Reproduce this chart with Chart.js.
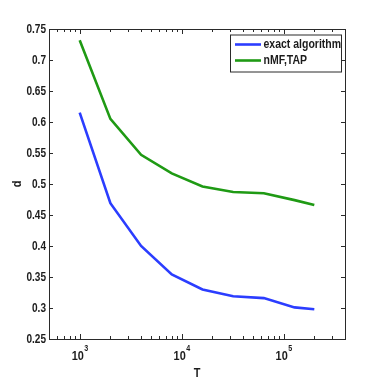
<!DOCTYPE html>
<html>
<head>
<meta charset="utf-8">
<script src="https://cdn.jsdelivr.net/npm/chart.js@4"></script>
<style>
  html, body { margin: 0; padding: 0; background: #fff; }
  #wrap { width: 382px; height: 382px; }
</style>
</head>
<body>
<div id="wrap"><canvas id="chart"></canvas></div>
<script>
// values
const T = [1000, 2000, 4000, 8000, 16000, 32000, 64000, 128000, 200000];
const exactAlgorithm = [0.615, 0.469, 0.400, 0.354, 0.330, 0.319, 0.316, 0.301, 0.298];
const nmfTap = [0.732, 0.605, 0.547, 0.517, 0.496, 0.487, 0.485, 0.474, 0.466];
const seriesNames = ["exact algorithm", "nMF,TAP"];
const seriesColors = ["#2b3dff", "#1f9a14"];
const xDecades = [3, 4, 5];

const FONT = "'Liberation Sans', Arial, sans-serif";
const INK = "#1c1c1c";
const SQUEEZE = 0.84; // the original lettering is narrow

function pts(vals) {
    return T.map((t, i) => ({ x: t, y: vals[i] }));
}

// text squeezed horizontally, anchored at (x, y)
function narrowText(ctx, txt, x, y, size, align) {
    ctx.save();
    ctx.font = "bold " + size + "px " + FONT;
    ctx.translate(x, y);
    ctx.scale(SQUEEZE, 1);
    ctx.textAlign = align;
    ctx.fillText(txt, 0, 0);
    ctx.restore();
}

function narrowWidth(ctx, txt, size) {
    ctx.font = "bold " + size + "px " + FONT;
    return ctx.measureText(txt).width * SQUEEZE;
}

// axes box, inward ticks, labels, titles and legend
const matlabLook = {
    id: "matlabLook",
    afterDraw(chart) {
        const ctx = chart.ctx;
        const a = chart.chartArea;
        const xs = chart.scales.x, ys = chart.scales.y;
        ctx.save();
        ctx.strokeStyle = "#2a2a2a";
        ctx.lineWidth = 1;
        ctx.strokeRect(Math.round(a.left) + 0.5, Math.round(a.top) + 0.5,
            Math.round(a.right - a.left), Math.round(a.bottom - a.top));

        ctx.beginPath();
        ys.ticks.forEach(t => {
            let py = Math.round(ys.getPixelForValue(t.value)) + 0.5;
            ctx.moveTo(a.left, py); ctx.lineTo(a.left + 4, py);
            ctx.moveTo(a.right, py); ctx.lineTo(a.right - 4, py);
        });
        for (let d = 100; d <= 1e6; d *= 10) {
            for (let k = 1; k <= 9; k++) {
                let v = k * d;
                if (v < xs.min || v > xs.max) continue;
                let px = Math.round(xs.getPixelForValue(v)) + 0.5;
                let len = k === 1 ? 5 : 3;
                ctx.moveTo(px, a.bottom); ctx.lineTo(px, a.bottom - len);
                ctx.moveTo(px, a.top); ctx.lineTo(px, a.top + len);
            }
        }
        ctx.stroke();

        ctx.fillStyle = INK;
        ctx.textBaseline = "middle";

        // y tick labels
        ys.ticks.forEach(t => {
            let py = ys.getPixelForValue(t.value);
            narrowText(ctx, String(+t.value.toFixed(2)), a.left - 3, py + 0.5, 12, "right");
        });

        // x tick labels 10^n
        ctx.textBaseline = "alphabetic";
        xDecades.forEach(n => {
            let px = xs.getPixelForValue(Math.pow(10, n));
            let w1 = narrowWidth(ctx, "10", 13);
            let w2 = narrowWidth(ctx, String(n), 8.5);
            let x0 = px - (w1 + w2) / 2;
            narrowText(ctx, "10", x0, 359.5, 13, "left");
            narrowText(ctx, String(n), x0 + w1 + 0.5, 350.5, 8.5, "left");
        });

        // axis titles
        ctx.textBaseline = "middle";
        narrowText(ctx, "T", (a.left + a.right) / 2, 373, 13, "center");
        ctx.save();
        ctx.translate(17, (a.top + a.bottom) / 2);
        ctx.rotate(-Math.PI / 2);
        narrowText(ctx, "d", 0, 0, 13, "center");
        ctx.restore();

        // legend
        let lx = 230, ly = 34.5, lw = 111, lh = 37;
        ctx.fillStyle = "#fff";
        ctx.fillRect(lx, ly, lw, lh);
        ctx.strokeStyle = "#2a2a2a";
        ctx.strokeRect(lx + 0.5, ly + 0.5, lw, lh);
        ctx.textBaseline = "middle";
        seriesNames.forEach((name, i) => {
            let yy = ly + 10 + i * 16;
            ctx.strokeStyle = seriesColors[i];
            ctx.lineWidth = 2.6;
            ctx.beginPath();
            ctx.moveTo(lx + 5, yy); ctx.lineTo(lx + 31, yy);
            ctx.stroke();
            ctx.fillStyle = INK;
            narrowText(ctx, name, lx + 33.5, yy + 0.5, 12.5, "left");
        });
        ctx.restore();
    }
};

new Chart(document.getElementById("chart"), {
    type: "line",
    data: {
        datasets: [
            { label: seriesNames[0], data: pts(exactAlgorithm), borderColor: seriesColors[0] },
            { label: seriesNames[1], data: pts(nmfTap), borderColor: seriesColors[1] }
        ]
    },
    options: {
        responsive: true,
        maintainAspectRatio: false,
        animation: false,
        layout: { padding: { top: 29, right: 37, left: 0, bottom: 0 } },
        elements: {
            line: { borderWidth: 2.6, tension: 0, fill: false },
            point: { radius: 0 }
        },
        plugins: { legend: { display: false }, tooltip: { enabled: false } },
        scales: {
            x: {
                type: "logarithmic",
                min: 500,
                max: 400000,
                ticks: { display: false },
                grid: { display: false },
                border: { display: false },
                afterFit: s => { s.height = 43; }
            },
            y: {
                min: 0.25,
                max: 0.75,
                ticks: { display: false, stepSize: 0.05 },
                grid: { display: false },
                border: { display: false },
                afterFit: s => { s.width = 49; }
            }
        }
    },
    plugins: [matlabLook]
});
</script>
</body>
</html>
